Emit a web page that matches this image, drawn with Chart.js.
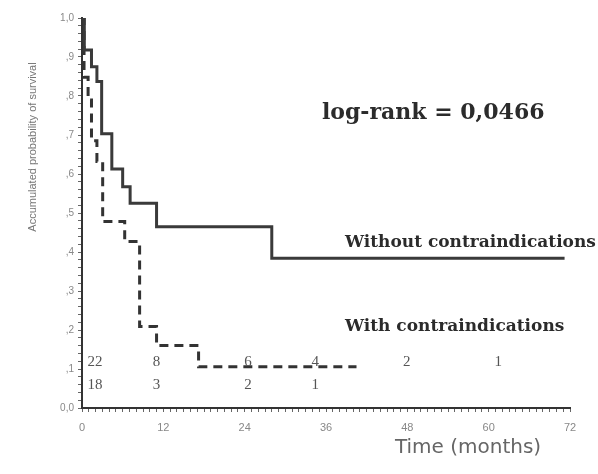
<!DOCTYPE html>
<html>
<head>
<meta charset="utf-8">
<script src="https://cdn.jsdelivr.net/npm/chart.js@4"></script>
<style>
  body { margin: 0; background: #fff; }
  canvas { display: block; }
</style>
</head>
<body>
<canvas id="km" width="598" height="474"></canvas>
<script>
// Kaplan-Meier steps (months, survival)
const withoutTimes = [0, 0.34, 1.4, 2.2, 2.9, 4.4, 6.0, 7.1, 11.0, 28.0, 71.2];
const withoutSurv  = [1.0, 0.918, 0.875, 0.837, 0.703, 0.613, 0.567, 0.525, 0.465, 0.384, 0.384];
const withTimes    = [0, 0.3, 0.9, 1.4, 2.2, 3.05, 6.3, 8.5, 11.0, 17.2, 40.5];
const withSurv     = [1.0, 0.848, 0.79, 0.685, 0.632, 0.478, 0.427, 0.209, 0.16, 0.106, 0.106];

// numbers at risk printed under the curves
const riskTimes   = [1.9, 11.0, 24.5, 34.4, 47.9, 61.4];
const riskWithout = ['22', '8', '6', '4', '2', '1'];
const riskWith    = ['18', '3', '2', '1'];

const xTickLabels = [0, 12, 24, 36, 48, 60, 72];
const yTickLabels = ['0,0', ',1', ',2', ',3', ',4', ',5', ',6', ',7', ',8', ',9', '1,0'];

const toPoints = (xs, ys) => xs.map((x, i) => ({ x: x, y: ys[i] }));

// text drawn on top of the plot, placed with the chart's scales
const annotations = {
  id: 'annotations',
  afterDatasetsDraw(chart) {
    const { ctx, scales: { x, y } } = chart;
    ctx.save();
    ctx.textBaseline = 'middle';

    // numbers at risk
    ctx.fillStyle = '#555';
    ctx.font = '15px "Liberation Serif"';
    ctx.textAlign = 'center';
    riskWithout.forEach((n, i) => ctx.fillText(n, x.getPixelForValue(riskTimes[i]), y.getPixelForValue(0.119)));
    riskWith.forEach((n, i) => ctx.fillText(n, x.getPixelForValue(riskTimes[i]), y.getPixelForValue(0.059)));

    // group labels and test result
    ctx.fillStyle = '#2b2b2b';
    ctx.textAlign = 'left';
    ctx.font = 'bold 22px "DejaVu Serif"';
    ctx.fillText('log-rank = 0,0466', x.getPixelForValue(35.4), y.getPixelForValue(0.756));
    ctx.font = 'bold 17px "DejaVu Serif"';
    ctx.fillText('Without contraindications', x.getPixelForValue(38.8), y.getPixelForValue(0.423));
    ctx.fillText('With contraindications', x.getPixelForValue(38.8), y.getPixelForValue(0.21));

    // axis titles
    ctx.fillStyle = '#666';
    ctx.textAlign = 'center';
    ctx.font = '20px "DejaVu Sans"';
    ctx.fillText('Time (months)', 468, 448);
    ctx.save();
    ctx.translate(33, 147);
    ctx.rotate(-Math.PI / 2);
    ctx.font = '11px "Liberation Sans"';
    ctx.fillStyle = '#777';
    ctx.fillText('Accumulated probability of survival', 0, 0);
    ctx.restore();

    ctx.restore();
  }
};

new Chart(document.getElementById('km').getContext('2d'), {
  type: 'scatter',
  data: {
    datasets: [
      {
        label: 'Without contraindications',
        data: toPoints(withoutTimes, withoutSurv),
        showLine: true,
        stepped: 'before',
        borderColor: '#3a3a3a',
        borderWidth: 3,
        borderJoinStyle: 'miter',
        pointRadius: 0
      },
      {
        label: 'With contraindications',
        data: toPoints(withTimes, withSurv),
        showLine: true,
        stepped: 'before',
        borderColor: '#333',
        borderWidth: 3,
        borderDash: [9, 6],
        borderJoinStyle: 'miter',
        pointRadius: 0
      }
    ]
  },
  options: {
    responsive: false,
    animation: false,
    layout: { padding: { top: 18, right: 28, left: 0, bottom: 0 } },
    plugins: { legend: { display: false }, tooltip: { enabled: false } },
    scales: {
      x: {
        type: 'linear',
        min: 0,
        max: 72,
        afterFit: s => { s.height = 66; },
        border: { color: '#333', width: 2 },
        grid: { drawOnChartArea: false, tickLength: 4, tickColor: '#666' },
        ticks: {
          stepSize: 1,
          autoSkip: false,
          maxRotation: 0,
          padding: 9,
          color: '#888',
          font: { size: 11, family: 'Liberation Sans' },
          callback: v => xTickLabels.includes(v) ? String(v) : ''
        }
      },
      y: {
        min: 0,
        max: 1,
        afterFit: s => { s.width = 82; },
        border: { color: '#333', width: 2 },
        grid: { drawOnChartArea: false, tickLength: 4, tickColor: '#666' },
        ticks: {
          stepSize: 0.02,
          autoSkip: false,
          padding: 4,
          color: '#888',
          font: { size: 10, family: 'Liberation Sans' },
          callback: v => {
            const k = Math.round(v * 50);
            return k % 5 === 0 ? yTickLabels[k / 5] : '';
          }
        }
      }
    }
  },
  plugins: [annotations]
});
</script>
</body>
</html>
